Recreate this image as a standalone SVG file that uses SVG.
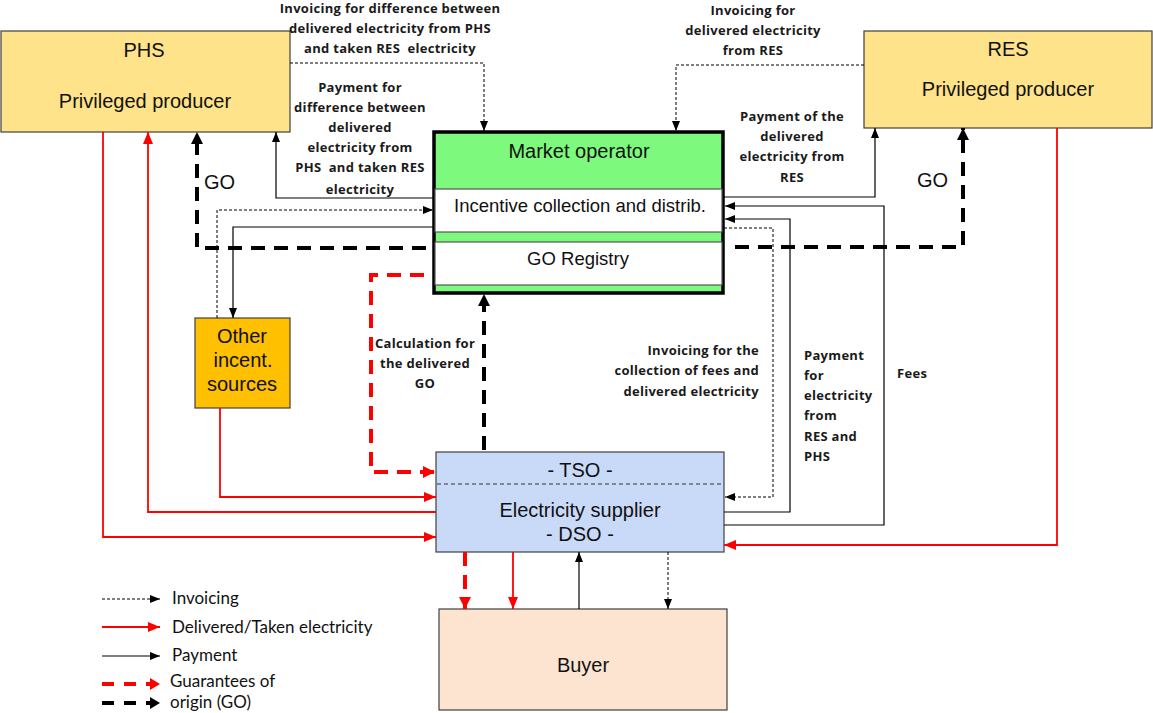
<svg xmlns="http://www.w3.org/2000/svg" width="1153" height="713" viewBox="0 0 1153 713">
<defs>
<style>
.lbl{font-family:"Open Sans",Lato,"Liberation Sans",sans-serif;font-weight:bold;font-size:13px;letter-spacing:0.3px;fill:#1a1a1a}
.node{font-family:"Liberation Sans",Arial,sans-serif;font-size:20px;fill:#111}
.sub{font-size:18.5px}
.leg{font-family:Lato,"Liberation Sans",sans-serif;font-size:17px;fill:#111}
.inv{fill:none;stroke:#000;stroke-width:1;stroke-dasharray:3 2;marker-end:url(#aB)}
.pay{fill:none;stroke:#000;stroke-width:1.2;marker-end:url(#aB)}
.del{fill:none;stroke:#f00;stroke-width:1.8;marker-end:url(#aR)}
.gor{fill:none;stroke:#f00;stroke-width:4;stroke-dasharray:14 9;marker-end:url(#aRG)}
.gob{fill:none;stroke:#000;stroke-width:4;stroke-dasharray:14 9;marker-end:url(#aBG)}
</style>
<marker id="aB" markerUnits="userSpaceOnUse" markerWidth="10" markerHeight="8" refX="10" refY="4" orient="auto"><path d="M0,0 L10,4 L0,8 z" fill="#000"/></marker>
<marker id="aR" markerUnits="userSpaceOnUse" markerWidth="12" markerHeight="10" refX="12" refY="5" orient="auto"><path d="M0,0 L12,5 L0,10 z" fill="#f00"/></marker>
<marker id="aRG" markerUnits="userSpaceOnUse" markerWidth="12" markerHeight="12" refX="12" refY="6" orient="auto"><path d="M0,0 L12,6 L0,12 z" fill="#f00"/></marker>
<marker id="aBG" markerUnits="userSpaceOnUse" markerWidth="12" markerHeight="12" refX="12" refY="6" orient="auto"><path d="M0,0 L12,6 L0,12 z" fill="#000"/></marker>
</defs>
<rect width="1153" height="713" fill="#fff"/>

<g id="phs">
<rect x="1" y="31" width="289" height="101" fill="#FFE38A" stroke="#404040" stroke-width="1.2"/>
<text class="node" x="144" y="57" text-anchor="middle">PHS</text>
<text class="node" x="145" y="108" text-anchor="middle">Privileged producer</text>
</g>

<g id="res">
<rect x="864" y="31" width="288" height="97" fill="#FFE38A" stroke="#404040" stroke-width="1.2"/>
<text class="node" x="1008" y="56" text-anchor="middle">RES</text>
<text class="node" x="1008" y="96" text-anchor="middle">Privileged producer</text>
</g>

<g id="market-operator">
<rect x="434" y="132" width="289" height="161" fill="#7DF97D" stroke="#000" stroke-width="3.5"/>
<rect x="435" y="189" width="287" height="43" fill="#fff" stroke="#555" stroke-width="1.2"/>
<rect x="435" y="242" width="287" height="43" fill="#fff" stroke="#555" stroke-width="1.2"/>
<text class="node" x="579" y="158" text-anchor="middle">Market operator</text>
<text class="node sub" x="580" y="212" text-anchor="middle">Incentive collection and distrib.</text>
<text class="node sub" x="578" y="265" text-anchor="middle">GO Registry</text>
</g>

<g id="other-sources">
<rect x="195" y="318" width="95" height="90" fill="#FFC000" stroke="#404040" stroke-width="1.2"/>
<text class="node" x="242" y="343" text-anchor="middle">Other</text>
<text class="node" x="243" y="367" text-anchor="middle">incent.</text>
<text class="node" x="242" y="391" text-anchor="middle">sources</text>
</g>

<g id="tso">
<rect x="436" y="452" width="288" height="100" fill="#C9D9F8" stroke="#404040" stroke-width="1.2"/>
<line x1="437" y1="484" x2="722" y2="484" stroke="#333" stroke-width="1" stroke-dasharray="4 3"/>
<text class="node" x="580" y="477" text-anchor="middle">- TSO -</text>
<text class="node" x="580" y="517" text-anchor="middle">Electricity supplier</text>
<text class="node" x="580" y="541" text-anchor="middle">- DSO -</text>
</g>

<g id="buyer">
<rect x="439" y="609" width="288" height="101" fill="#FCE4D0" stroke="#404040" stroke-width="1.2"/>
<text class="node" x="583" y="672" text-anchor="middle">Buyer</text>
</g>

<g id="connectors">
<path class="inv" d="M290,63 H484 V131"/>
<path class="inv" d="M864,65 H676 V131"/>
<path class="inv" d="M217,318 V210 H433"/>
<path class="inv" d="M724,228 H773 V497 H725"/>
<path class="inv" d="M668,552 V609"/>

<path class="pay" d="M433,198 H276 V132"/>
<path class="pay" d="M724,197 H875 V128"/>
<path class="pay" d="M433,227 H233 V318"/>
<path class="pay" d="M724,512 H790 V219 H725"/>
<path class="pay" d="M724,525 H884 V206 H725"/>
<path class="pay" d="M579,609 V552"/>

<path class="del" d="M103,132 V537 H436"/>
<path class="del" d="M436,512 H148 V132"/>
<path class="del" d="M220,408 V497 H436"/>
<path class="del" d="M1057,128 V545 H724"/>
<path class="del" d="M513,552 V609"/>

<path class="gor" d="M424,275 H371 V472 H435"/>
<path class="gor" d="M465,552 V609"/>

<path class="gob" d="M484,450 V294"/>
<path class="gob" d="M426,248 H197 V132"/>
<path class="gob" d="M735,247 H963 V128"/>
</g>

<g id="labels">
<text class="lbl" text-anchor="middle" xml:space="preserve"><tspan x="390" y="13">Invoicing for difference between</tspan><tspan x="390" y="33">delivered electricity from PHS</tspan><tspan x="390" y="53">and taken RES  electricity</tspan></text>
<text class="lbl" text-anchor="middle"><tspan x="753" y="15">Invoicing for</tspan><tspan x="753" y="35">delivered electricity</tspan><tspan x="753" y="55">from RES</tspan></text>
<text class="lbl" text-anchor="middle" xml:space="preserve"><tspan x="360" y="92">Payment for</tspan><tspan x="360" y="112">difference between</tspan><tspan x="360" y="132">delivered</tspan><tspan x="360" y="152">electricity from</tspan><tspan x="360" y="172">PHS  and taken RES</tspan><tspan x="360" y="194">electricity</tspan></text>
<text class="lbl" text-anchor="middle"><tspan x="792" y="121">Payment of the</tspan><tspan x="792" y="141">delivered</tspan><tspan x="792" y="161">electricity from</tspan><tspan x="792" y="182">RES</tspan></text>
<text class="lbl" text-anchor="middle"><tspan x="425" y="348">Calculation for</tspan><tspan x="425" y="368">the delivered</tspan><tspan x="425" y="388">GO</tspan></text>
<text class="lbl" text-anchor="end"><tspan x="759" y="355">Invoicing for the</tspan><tspan x="759" y="375">collection of fees and</tspan><tspan x="759" y="396">delivered electricity</tspan></text>
<text class="lbl"><tspan x="804" y="360">Payment</tspan><tspan x="804" y="380">for</tspan><tspan x="804" y="400">electricity</tspan><tspan x="804" y="420">from</tspan><tspan x="804" y="441">RES and</tspan><tspan x="804" y="461">PHS</tspan></text>
<text class="lbl" x="897" y="378">Fees</text>
<text class="node" x="204" y="189">GO</text>
<text class="node" x="917" y="187">GO</text>
</g>

<g id="legend">
<path class="inv" d="M102,599 H160"/>
<path class="del" d="M102,627 H160"/>
<path class="pay" d="M102,656 H160"/>
<path fill="none" stroke="#f00" stroke-width="4" stroke-dasharray="12 10" d="M102,684 H150"/>
<path d="M150,678 L160,684 L150,690 z" fill="#f00"/>
<path fill="none" stroke="#000" stroke-width="4" stroke-dasharray="12 10" d="M102,703 H150"/>
<path d="M150,697 L160,703 L150,709 z" fill="#000"/>
<text class="leg" x="172" y="604">Invoicing</text>
<text class="leg" x="172" y="633">Delivered/Taken electricity</text>
<text class="leg" x="172" y="661">Payment</text>
<text class="leg" x="170" y="687">Guarantees of</text>
<text class="leg" x="170" y="708">origin (GO)</text>
</g>
</svg>
